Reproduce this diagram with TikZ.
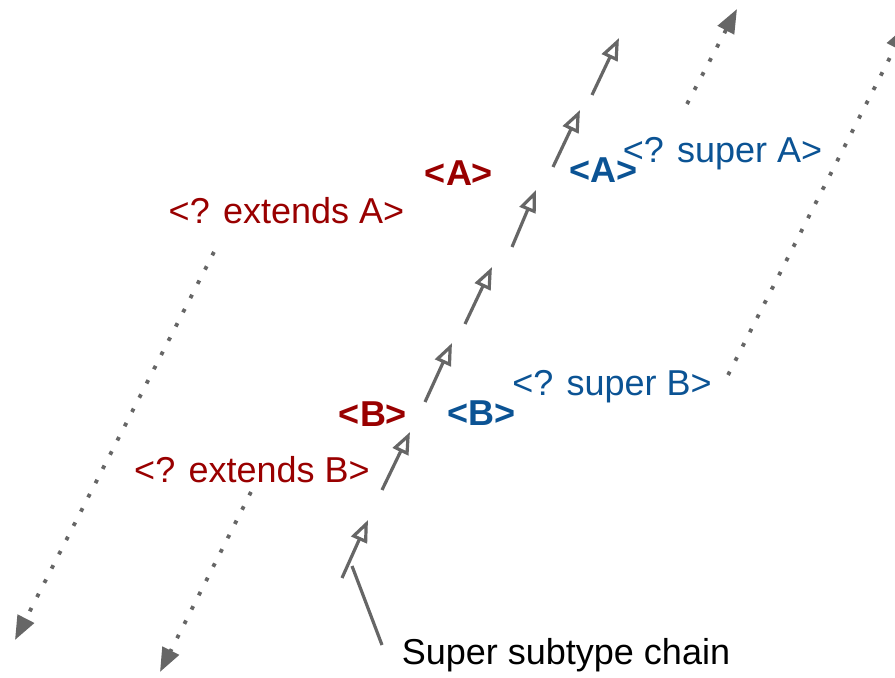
\documentclass[tikz,border=0pt]{standalone}
\usepackage{fontspec}
\setmainfont{Liberation Sans}
\usetikzlibrary{arrows.meta}
\definecolor{extred}{HTML}{990000}
\definecolor{supblue}{HTML}{0B5394}
\definecolor{linkgray}{HTML}{666666}

\begin{document}
\begin{tikzpicture}[x=0.5pt,y=-0.5pt,
every node/.style={inner sep=0pt,anchor=base,font=\fontsize{18}{21}\selectfont},
lower/.style={text=extred},
upper/.style={text=supblue},
bound/.style={font=\fontsize{18}{21}\selectfont\bfseries},
link/.style={draw=linkgray,line width=1.6pt,-{Triangle[open,length=11pt,width=8.5pt]}},
wild/.style={draw=linkgray,line width=1.9pt,dash pattern=on 1.9pt off 6.1pt,-{Triangle[length=12pt,width=9pt]}},]
\useasboundingbox (0,0) rectangle (895,678);

% type parameters and their wildcards
\node[lower,bound] (A) at (459,186) {<A>};
\node[lower] (extA) at (286.5,224) {<? extends A>};
\node[upper,bound] (As) at (603.5,183) {<A>};
\node[upper] (supA) at (722.5,163) {<? super A>};
\node[lower,bound] (B) at (373,427) {<B>};
\node[lower] (extB) at (252,483) {<? extends B>};
\node[upper,bound] (Bs) at (481.5,426) {<B>};
\node[upper] (supB) at (612,396) {<? super B>};
\node (chain) at (566,665) {Super subtype chain};

% the chain itself
\foreach \i/\sx/\sy/\tx/\ty in {1/342/578/368/520, 2/382/490/410/432, 3/425/402/452/343,
    4/465/324/492/267, 5/512/247/536/190, 6/553/167/580/110, 7/592/95/619/38}{
  \coordinate (s\i) at (\sx,\sy);
  \coordinate (t\i) at (\tx,\ty);
  \draw[link] (s\i) -- (t\i);
}

% bounds going down and up
\coordinate (extAs) at (214,252);
\coordinate (extAt) at (15,640);
\coordinate (extBs) at (251,492);
\coordinate (extBt) at (160,672);
\coordinate (supAs) at (687,104);
\coordinate (supAt) at (737,9);
\coordinate (supBs) at (728,375);
\coordinate (supBt) at (906,26);
\draw[wild] (extAs) -- (extAt);
\draw[wild] (extBs) -- (extBt);
\draw[wild] (supAs) -- (supAt);
\draw[wild] (supBs) -- (supBt);

% pointer to the chain
\coordinate (ptr) at (382,645);
\coordinate (ptrend) at (352,566);
\draw[linkgray,line width=1.6pt] (ptr) -- (ptrend);
\end{tikzpicture}
\end{document}
